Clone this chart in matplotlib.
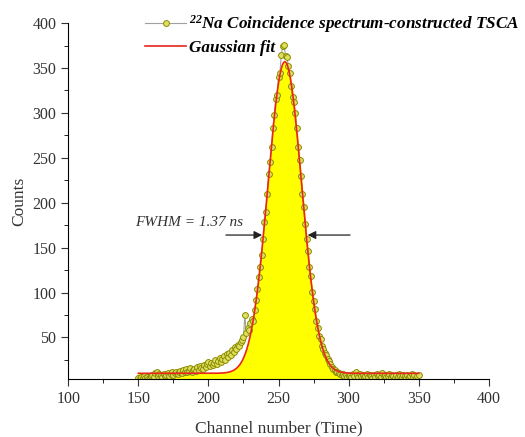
import matplotlib
matplotlib.use("Agg")
import matplotlib.pyplot as plt
import numpy as np

# measured spectrum, one value per channel (150..350)
channels = np.arange(150, 351)
counts = [
    5, 4, 6, 5, 7, 5, 6, 4, 6, 7,
    8, 6, 10, 12, 7, 9, 8, 6, 9, 7,
    8, 10, 7, 9, 11, 8, 10, 12, 9, 11,
    13, 10, 14, 12, 15, 11, 13, 16, 12, 14,
    15, 13, 17, 14, 18, 16, 15, 19, 17, 20,
    23, 18, 21, 19, 22, 25, 20, 24, 27, 23,
    26, 29, 25, 31, 28, 33, 30, 36, 34, 39,
    37, 42, 40, 45, 47, 50, 75, 55, 60, 58,
    66, 70, 68, 80, 92, 104, 117, 128, 142, 160,
    178, 190, 210, 232, 245, 262, 283, 298, 315, 320,
    340, 345, 365, 375, 376, 363, 362, 352, 345, 330,
    318, 312, 300, 283, 262, 248, 230, 210, 195, 176,
    160, 146, 128, 118, 101, 90, 82, 68, 60, 52,
    48, 40, 37, 33, 30, 26, 24, 20, 17, 15,
    14, 12, 11, 10, 9, 8, 9, 7, 8, 6,
    7, 8, 6, 9, 7, 11, 8, 6, 9, 7,
    8, 6, 7, 9, 6, 8, 7, 5, 8, 6,
    9, 7, 8, 6, 10, 7, 8, 6, 7, 9,
    6, 8, 7, 5, 8, 6, 9, 7, 6, 8,
    7, 5, 8, 6, 7, 9, 6, 8, 5, 7,
    8,
]

# gaussian fit parameters
fit_y0 = 10.0
fit_amp = 347.0
fit_xc = 254.5
fit_sigma = 12.0

x_fit = np.linspace(150, 350, 801)
y_fit = fit_y0 + fit_amp * np.exp(-(x_fit - fit_xc) ** 2 / (2 * fit_sigma ** 2))

plt.rcParams['font.family'] = ['Liberation Serif', 'DejaVu Serif']
plt.rcParams['mathtext.fontset'] = 'custom'
plt.rcParams['mathtext.rm'] = 'Liberation Serif:bold:italic'
plt.rcParams['mathtext.it'] = 'Liberation Serif:bold:italic'

fig = plt.figure(figsize=(5.25, 4.37), dpi=100)
ax = fig.add_axes([0.13, 0.1334, 0.801, 0.8136])

ax.fill_between(x_fit, 0, y_fit, color='#ffff00', zorder=1)
ax.plot(channels, counts, color='#a0a0a0', lw=0.8, marker='o', ms=4.2,
        mfc='#e0e060', mec='#8a8a00', mew=0.7, zorder=2,
        label=r'$^{22}$Na Coincidence spectrum-constructed TSCA')
ax.plot(x_fit, y_fit, color='#e8261c', lw=1.2, zorder=3, label='Gaussian fit')

ax.set_xlim(100, 400)
ax.set_ylim(4, 400)
ax.set_xticks(np.arange(100, 401, 50))
ax.set_xticks(np.arange(125, 400, 50), minor=True)
ax.set_yticks(np.arange(50, 401, 50))
ax.set_yticks(np.arange(25, 400, 50), minor=True)
ax.spines['top'].set_visible(False)
ax.spines['right'].set_visible(False)
ax.tick_params(which='major', direction='out', length=5, labelsize=11.5, colors='#333333')
ax.tick_params(which='minor', direction='out', length=3)

ax.set_xlabel('Channel number (Time)', fontsize=12.5, color='#333333', labelpad=10)
ax.set_ylabel('Counts', fontsize=12.5, color='#333333', labelpad=4)

# FWHM annotation
ax.text(147.5, 178, 'FWHM = 1.37 ns', fontsize=11, style='italic', va='center', ha='left', color='#333333')
ax.annotate('', xy=(240.3, 164), xytext=(210.5, 164),
            arrowprops=dict(arrowstyle='-|>', color='#222222', lw=0.9, mutation_scale=12))
ax.annotate('', xy=(268.8, 164), xytext=(303, 164),
            arrowprops=dict(arrowstyle='-|>', color='#222222', lw=0.9, mutation_scale=12))

leg = fig.legend(loc='upper left', bbox_to_anchor=(0.247, 1.005), frameon=False,
                 handlelength=2.4, handletextpad=0.2, labelspacing=0.3,
                 prop={'size': 12.3, 'weight': 'bold', 'style': 'italic'})

fig.savefig('out.png', dpi=100)
